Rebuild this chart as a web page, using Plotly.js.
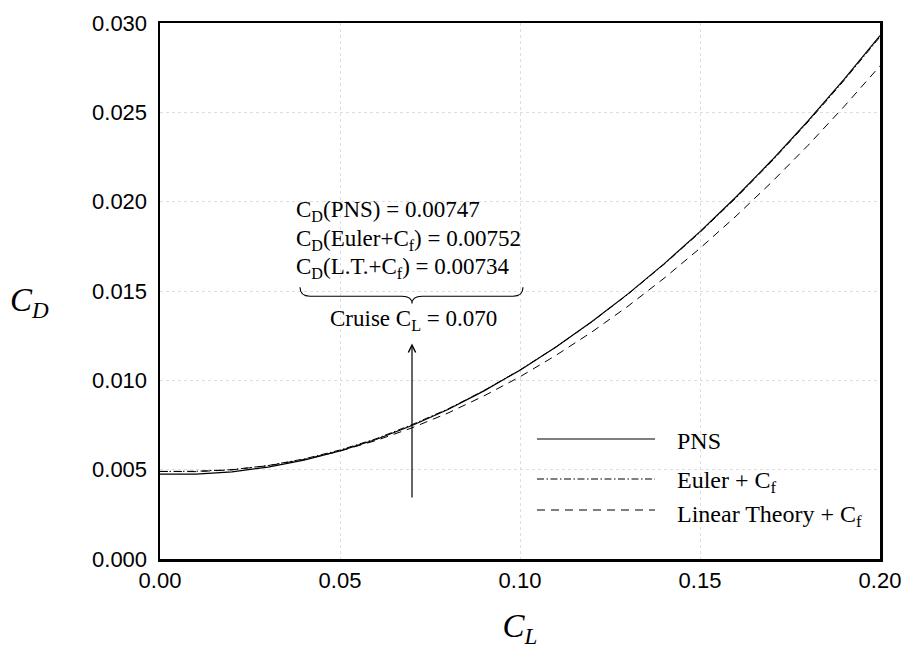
<!DOCTYPE html>
<html>
<head>
<meta charset="utf-8">
<script src="https://cdn.plot.ly/plotly-3.0.1.min.js"></script>
<style>html,body{margin:0;padding:0;background:#fff;}#chart{width:907px;height:653px;}</style>
</head>
<body>
<div id="chart"></div>
<script>
// Lift coefficient samples
const CL = [0.00, 0.01, 0.02, 0.03, 0.04, 0.05, 0.06, 0.07, 0.08, 0.09, 0.10,
            0.11, 0.12, 0.13, 0.14, 0.15, 0.16, 0.17, 0.18, 0.19, 0.20];
// Drag coefficient
const CD_PNS = [0.00475, 0.00475, 0.00488, 0.00514, 0.00553, 0.00605, 0.00669, 0.00747, 0.00837, 0.00941, 0.01057,
                0.01187, 0.01329, 0.01484, 0.01652, 0.01832, 0.02026, 0.02233, 0.02452, 0.02685, 0.02930];
const CD_EULER = [0.00490, 0.00491, 0.00500, 0.00523, 0.00560, 0.00610, 0.00673, 0.00752, 0.00840, 0.00943, 0.01058,
                  0.01187, 0.01328, 0.01482, 0.01649, 0.01828, 0.02021, 0.02227, 0.02446, 0.02678, 0.02922];
const CD_LT = [0.00490, 0.00489, 0.00499, 0.00522, 0.00557, 0.00604, 0.00663, 0.00734, 0.00817, 0.00913, 0.01020,
               0.01140, 0.01271, 0.01415, 0.01571, 0.01739, 0.01919, 0.02111, 0.02315, 0.02532, 0.02760];
const xTicks = [0.00, 0.05, 0.10, 0.15, 0.20];
const xTickText = ["0.00", "0.05", "0.10", "0.15", "0.20"];
const yTicks = [0.000, 0.005, 0.010, 0.015, 0.020, 0.025, 0.030];
const yTickText = ["0.000", "0.005", "0.010", "0.015", "0.020", "0.025", "0.030"];
const seriesNames = ["PNS", "Euler + C<sub>f</sub>", "Linear Theory + C<sub>f</sub>"];
const cruiseCL = 0.070;
const arrowFrom = 0.00336, arrowTo = 0.01206;
const noteLines = ["C<sub>D</sub>(PNS) = 0.00747",
                   "C<sub>D</sub>(Euler+C<sub>f</sub>) = 0.00752",
                   "C<sub>D</sub>(L.T.+C<sub>f</sub>) = 0.00734"];
const noteY = [0.01950, 0.01788, 0.01628];
const cruiseText = "Cruise C<sub>L</sub> = 0.070";

const serif = "Liberation Serif, Times New Roman, serif";
const sans = "Liberation Sans, Arial, Helvetica, sans-serif";
const dashEuler = "7px,2.5px,1.5px,2.5px";
const dashLT = "8px,6px";

const traces = [
  {x: CL, y: CD_PNS, mode: "lines", name: seriesNames[0], line: {color: "#000", width: 1.2}, showlegend: false},
  {x: CL, y: CD_EULER, mode: "lines", name: seriesNames[1], line: {color: "#000", width: 1.0, dash: dashEuler}, showlegend: false},
  {x: CL, y: CD_LT, mode: "lines", name: seriesNames[2], line: {color: "#000", width: 1.0, dash: dashLT}, showlegend: false}
];

const annotations = [];
noteLines.forEach((t, i) => annotations.push({
  x: 0.0372, y: noteY[i], xref: "x", yref: "y", xanchor: "left", yanchor: "middle",
  text: t, showarrow: false, font: {family: serif, size: 23, color: "#000"}
}));
annotations.push({x: 0.0703, y: 0.01340, xref: "x", yref: "y", xanchor: "center", yanchor: "middle",
  text: cruiseText, showarrow: false, font: {family: serif, size: 23, color: "#000"}});
annotations.push({x: cruiseCL, y: arrowTo, ax: cruiseCL, ay: arrowFrom, xref: "x", yref: "y", axref: "x", ayref: "y",
  text: "", showarrow: true, arrowhead: 5, arrowsize: 1.2, arrowwidth: 1.2, arrowcolor: "#000", standoff: 0});
// legend (manual, long line samples)
const legY = [0.2239, 0.1493, 0.0914];
const legTextY = [0.2201, 0.1437, 0.0802];
const legDash = ["solid", dashEuler, dashLT];
seriesNames.forEach((n, i) => annotations.push({
  x: 0.7153, y: legTextY[i], xref: "paper", yref: "paper", xanchor: "left", yanchor: "middle",
  text: n, showarrow: false, font: {family: serif, size: 24, color: "#000"}
}));
// y axis title (horizontal)
annotations.push({x: -0.181, y: 0.478, xref: "paper", yref: "paper", xanchor: "center", yanchor: "middle",
  text: "<i>C<sub>D</sub></i>", showarrow: false, font: {family: serif, size: 33, color: "#000"}});

const shapes = seriesNames.map((n, i) => ({
  type: "line", xref: "paper", yref: "paper", x0: 0.5236, x1: 0.6875, y0: legY[i], y1: legY[i],
  line: {color: "#000", width: 1.1, dash: legDash[i]}
}));
// brace above "Cruise C_L"
shapes.push({
  type: "path", xref: "x", yref: "y",
  path: "M 0.03889,0.01521 Q 0.03889,0.01471 0.04167,0.01471 L 0.06722,0.01471 Q 0.07,0.01471 0.07,0.0143 " +
        "Q 0.07,0.01471 0.07278,0.01471 L 0.09806,0.01471 Q 0.10083,0.01471 0.10083,0.01521",
  line: {color: "#000", width: 1.1}
});

const layout = {
  width: 907, height: 653,
  margin: {l: 160, r: 27, t: 23, b: 94},
  paper_bgcolor: "#fff", plot_bgcolor: "#fff",
  xaxis: {
    range: [0, 0.2], tickvals: xTicks, ticktext: xTickText, ticks: "",
    showline: true, mirror: true, linecolor: "#000", linewidth: 2.5,
    showgrid: true, gridcolor: "#d6d6d6", griddash: "dot", gridwidth: 0.8, zeroline: false,
    tickfont: {family: sans, size: 22, color: "#000"},
    title: {text: "<i>C<sub>L</sub></i>", font: {family: serif, size: 33, color: "#000"}, standoff: 22}
  },
  yaxis: {
    range: [0, 0.03], tickvals: yTicks, ticktext: yTickText, ticks: "",
    showline: true, mirror: true, linecolor: "#000", linewidth: 2.5,
    showgrid: true, gridcolor: "#d6d6d6", griddash: "dot", gridwidth: 0.8, zeroline: false,
    tickfont: {family: sans, size: 22, color: "#000"}, ticklabelstandoff: 6
  },
  annotations: annotations,
  shapes: shapes,
  showlegend: false
};
Plotly.newPlot("chart", traces, layout, {displayModeBar: false, staticPlot: true});
</script>
</body>
</html>
